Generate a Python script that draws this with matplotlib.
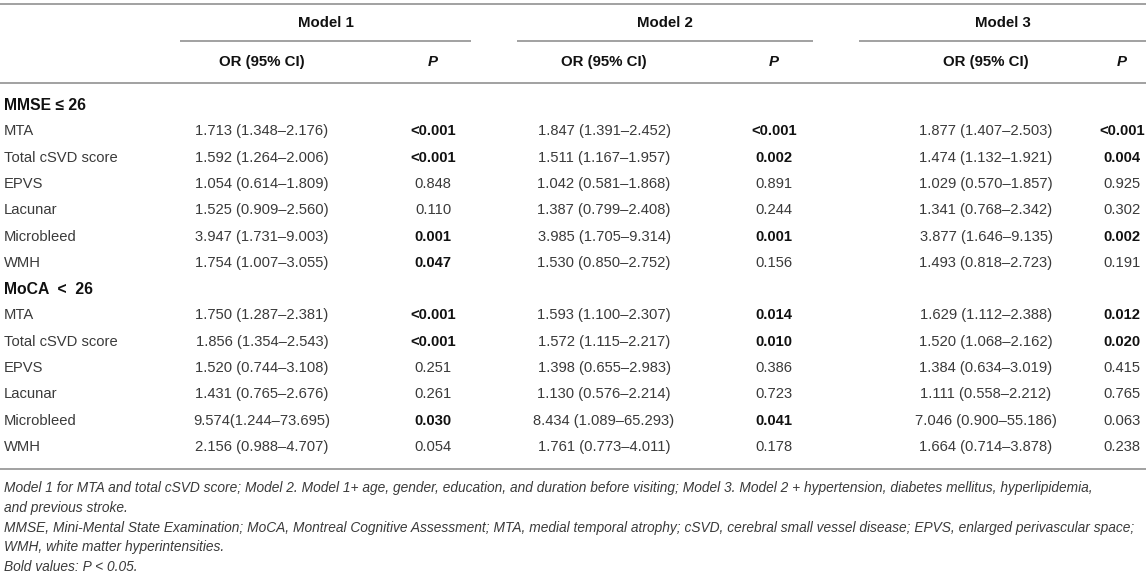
import matplotlib
matplotlib.use("Agg")
import matplotlib.pyplot as plt

plt.rcParams["font.family"] = ["Liberation Sans", "DejaVu Sans"]

models = ["Model 1", "Model 2", "Model 3"]
groups = ["MMSE \u2264 26", "MoCA  <  26"]
row_labels = ["MTA", "Total cSVD score", "EPVS", "Lacunar", "Microbleed", "WMH"]

# OR (95% CI) per group, one list per model
or_mmse = [
    ["1.713 (1.348\u20132.176)", "1.592 (1.264\u20132.006)", "1.054 (0.614\u20131.809)",
     "1.525 (0.909\u20132.560)", "3.947 (1.731\u20139.003)", "1.754 (1.007\u20133.055)"],
    ["1.847 (1.391\u20132.452)", "1.511 (1.167\u20131.957)", "1.042 (0.581\u20131.868)",
     "1.387 (0.799\u20132.408)", "3.985 (1.705\u20139.314)", "1.530 (0.850\u20132.752)"],
    ["1.877 (1.407\u20132.503)", "1.474 (1.132\u20131.921)", "1.029 (0.570\u20131.857)",
     "1.341 (0.768\u20132.342)", "3.877 (1.646\u20139.135)", "1.493 (0.818\u20132.723)"],
]
p_mmse = [
    ["<0.001", "<0.001", "0.848", "0.110", "0.001", "0.047"],
    ["<0.001", "0.002", "0.891", "0.244", "0.001", "0.156"],
    ["<0.001", "0.004", "0.925", "0.302", "0.002", "0.191"],
]
or_moca = [
    ["1.750 (1.287\u20132.381)", "1.856 (1.354\u20132.543)", "1.520 (0.744\u20133.108)",
     "1.431 (0.765\u20132.676)", "9.574(1.244\u201373.695)", "2.156 (0.988\u20134.707)"],
    ["1.593 (1.100\u20132.307)", "1.572 (1.115\u20132.217)", "1.398 (0.655\u20132.983)",
     "1.130 (0.576\u20132.214)", "8.434 (1.089\u201365.293)", "1.761 (0.773\u20134.011)"],
    ["1.629 (1.112\u20132.388)", "1.520 (1.068\u20132.162)", "1.384 (0.634\u20133.019)",
     "1.111 (0.558\u20132.212)", "7.046 (0.900\u201355.186)", "1.664 (0.714\u20133.878)"],
]
p_moca = [
    ["<0.001", "<0.001", "0.251", "0.261", "0.030", "0.054"],
    ["0.014", "0.010", "0.386", "0.723", "0.041", "0.178"],
    ["0.012", "0.020", "0.415", "0.765", "0.063", "0.238"],
]

footnotes = [
    "Model 1 for MTA and total cSVD score; Model 2. Model 1+ age, gender, education, and duration before visiting; Model 3. Model 2 + hypertension, diabetes mellitus, hyperlipidemia,",
    "and previous stroke.",
    "MMSE, Mini-Mental State Examination; MoCA, Montreal Cognitive Assessment; MTA, medial temporal atrophy; cSVD, cerebral small vessel disease; EPVS, enlarged perivascular space;",
    "WMH, white matter hyperintensities.",
    "Bold values: P < 0.05.",
]

# layout in pixels
W, H = 1146, 576
or_x = [262, 604, 986]
p_x = [433, 774, 1122]
model_spans = [(180, 471), (517, 813), (859, 1146)]
row_step = 26.3

fig = plt.figure(figsize=(W / 100, H / 100), dpi=100)
ax = fig.add_axes([0, 0, 1, 1])
ax.set_xlim(0, W)
ax.set_ylim(H, 0)
ax.axis("off")

rule = dict(color="#9a9a9a", lw=1.3)
body = "#3a3a3a"
head = "#111111"

ax.hlines(4, 0, W, **rule)
ax.hlines(83, 0, W, **rule)
ax.hlines(469, 0, W, **rule)
for (x0, x1), m in zip(model_spans, models):
    ax.hlines(41, x0, x1, **rule)
    ax.text((x0 + x1) / 2, 23, m, ha="center", va="center", fontsize=10.8,
            fontweight="bold", color=head)

for i in range(3):
    ax.text(or_x[i], 62, "OR (95% CI)", ha="center", va="center", fontsize=10.8,
            fontweight="bold", color=head)
    ax.text(p_x[i], 62, "P", ha="center", va="center", fontsize=10.8,
            fontweight="bold", style="italic", color=head)

y = 105
for g, ors, ps in [(groups[0], or_mmse, p_mmse), (groups[1], or_moca, p_moca)]:
    ax.text(4, y, g, ha="left", va="center", fontsize=11.3, fontweight="bold", color=head)
    y += row_step
    for r, lab in enumerate(row_labels):
        ax.text(4, y, lab, ha="left", va="center", fontsize=10.6, color=body)
        for m in range(3):
            ax.text(or_x[m], y, ors[m][r], ha="center", va="center", fontsize=10.6, color=body)
            pv = ps[m][r]
            sig = pv.startswith("<") or float(pv) < 0.05
            ax.text(p_x[m], y, pv, ha="center", va="center", fontsize=10.6,
                    fontweight="bold" if sig else "normal", color=head if sig else body)
        y += row_step

for k, line in enumerate(footnotes):
    ax.text(4, 488 + k * 19.8, line, ha="left", va="center", fontsize=9.95,
            style="italic", color=body)

fig.savefig("out.png", dpi=100)
